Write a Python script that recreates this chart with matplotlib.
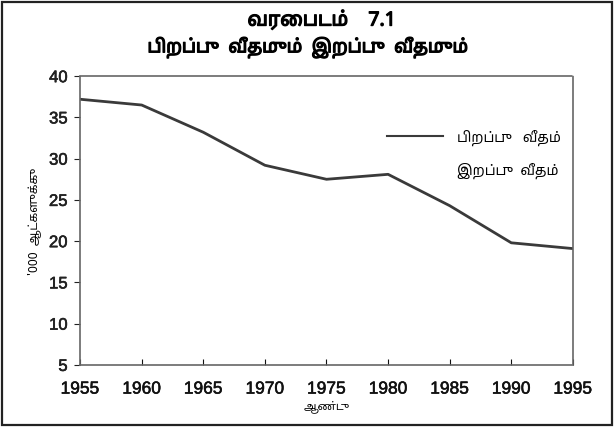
import matplotlib
matplotlib.use("Agg")
import matplotlib.pyplot as plt
import matplotlib.patheffects as pe
from matplotlib import font_manager
from matplotlib.lines import Line2D
from fontTools.ttLib import TTFont

years = [1955, 1960, 1965, 1970, 1975, 1980, 1985, 1990, 1995]
birth_rate = [37.2, 36.5, 33.2, 29.2, 27.5, 28.1, 24.3, 19.8, 19.1]
y_ticks = [5, 10, 15, 20, 25, 30, 35, 40]

title1 = "வரைபடம்    7.1"
title2 = "பிறப்பு  வீதமும்  இறப்பு  வீதமும்"
legend_labels = ["பிறப்பு   வீதம்", "இறப்பு  வீதம்"]
xlabel = "ஆண்டு"
ylabel = "'000  ஆட்களுக்கு"


# look for installed fonts that have Tamil letters, sans ones first
def find_tamil():
    found = []
    for path in font_manager.findSystemFonts():
        try:
            f = TTFont(path, fontNumber=0, lazy=True)
            cmap = f.getBestCmap() or {}
            if 0x0BB5 in cmap and 0x0BAA in cmap:
                found.append(font_manager.FontProperties(fname=path).get_name())
        except Exception:
            pass

    def rank(name):
        n = name.lower()
        if "mono" in n:
            return 3
        if "sans" in n or "lohit" in n:
            return 0
        return 1
    return sorted(set(found), key=rank)

tamil = find_tamil()
tamil_fam = (tamil[:1] if tamil else []) + ["DejaVu Sans"]
plt.rcParams["font.family"] = ["Liberation Sans", "DejaVu Sans"]

fig = plt.figure(figsize=(6.16, 4.31), dpi=100)
fig.patches.append(plt.Rectangle((0.004, 0.012), 0.99, 0.982, transform=fig.transFigure,
                                 fill=False, edgecolor="#222222", linewidth=1.6))

ax = fig.add_axes([0.130, 0.151, 0.800, 0.670])
ax.plot(years, birth_rate, color="#3a3a3a", linewidth=2)
ax.set_xlim(1955, 1995)
ax.set_ylim(5, 40)
ax.set_xticks(years)
ax.set_yticks(y_ticks)
for s in ax.spines.values():
    s.set_linestyle((0, (1, 1)))
    s.set_color("#666666")
    s.set_linewidth(1.2)
ax.tick_params(axis="x", direction="in", length=4, labelsize=12.5, pad=12, colors="#111111")
ax.tick_params(axis="y", direction="out", length=4, labelsize=12, pad=5, colors="#222222")
thick = [pe.withStroke(linewidth=0.4, foreground="#111111")]
for lab in ax.get_xticklabels() + ax.get_yticklabels():
    lab.set_path_effects(thick)
ax.set_xlabel(xlabel, fontsize=8, labelpad=2, family=tamil_fam)
ax.set_ylabel(ylabel, fontsize=8.5, labelpad=6, family=tamil_fam)

handles = [Line2D([], [], color="#3a3a3a", linewidth=1.5),
           Line2D([], [], color="none")]
ax.legend(handles, legend_labels, loc="upper right", bbox_to_anchor=(1.0, 0.86),
          frameon=False, prop={"family": tamil_fam, "size": 10},
          handlelength=4, labelspacing=1.2, handletextpad=1.0)

bold = [pe.withStroke(linewidth=0.9, foreground="black")]
fig.text(0.522, 0.950, title1, ha="center", va="center", fontsize=14,
         fontweight="bold", family=tamil_fam, path_effects=bold)
fig.text(0.50, 0.887, title2, ha="center", va="center", fontsize=13,
         fontweight="bold", family=tamil_fam, path_effects=bold)

fig.savefig("out.png", dpi=100)
